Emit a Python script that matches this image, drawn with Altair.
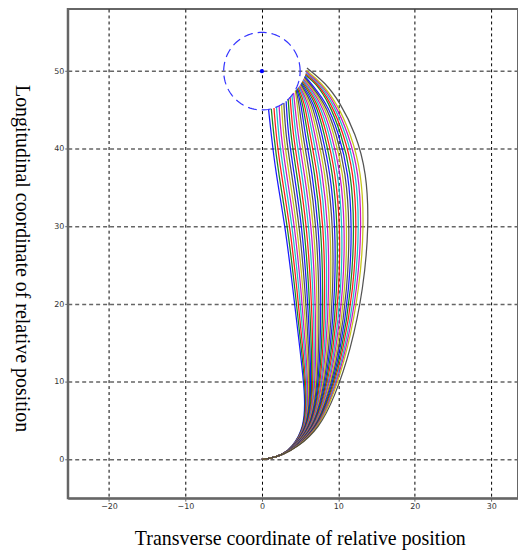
import altair as alt
import numpy as np
import pandas as pd

# ---- data ----
start_x = [0.0, 1.2, 2.7]
start_y = [0.0, 0.15, 0.6]

level_y = [1.5, 4, 8, 14, 22, 30, 37, 42, 46, 48.5]

x_y1_5 = [3.90, 3.92, 3.94, 3.96, 3.98, 4.00, 4.02, 4.04, 4.06, 4.08, 4.10, 4.12, 4.14, 4.16, 4.18, 4.20, 4.22, 4.24,
          4.26, 4.28, 4.30, 4.32, 4.34, 4.36, 4.38, 4.40, 4.42, 4.44, 4.46, 4.48, 4.50, 4.52, 4.54, 4.56, 4.60]
x_y4 = [5.50, 5.56, 5.61, 5.67, 5.73, 5.79, 5.84, 5.90, 5.96, 6.01, 6.07, 6.13, 6.19, 6.24, 6.30, 6.36, 6.41, 6.47,
        6.53, 6.59, 6.64, 6.70, 6.76, 6.81, 6.87, 6.93, 6.99, 7.04, 7.10, 7.16, 7.21, 7.27, 7.33, 7.39, 7.50]
x_y8 = [5.70, 5.81, 5.92, 6.03, 6.13, 6.24, 6.35, 6.46, 6.57, 6.68, 6.79, 6.89, 7.00, 7.11, 7.22, 7.33, 7.44, 7.55,
        7.65, 7.76, 7.87, 7.98, 8.09, 8.20, 8.31, 8.41, 8.52, 8.63, 8.74, 8.85, 8.96, 9.07, 9.17, 9.28, 9.50]
x_y14 = [5.00, 5.19, 5.38, 5.57, 5.75, 5.94, 6.13, 6.32, 6.51, 6.70, 6.89, 7.07, 7.26, 7.45, 7.64, 7.83, 8.02, 8.21,
         8.39, 8.58, 8.77, 8.96, 9.15, 9.34, 9.53, 9.71, 9.90, 10.09, 10.28, 10.47, 10.66, 10.85, 11.03, 11.22, 11.60]
x_y22 = [4.05, 4.31, 4.58, 4.84, 5.11, 5.37, 5.64, 5.90, 6.16, 6.43, 6.69, 6.96, 7.22, 7.49, 7.75, 8.01, 8.28, 8.54,
         8.81, 9.07, 9.34, 9.60, 9.86, 10.13, 10.39, 10.66, 10.92, 11.19, 11.45, 11.71, 11.98, 12.24, 12.51, 12.77, 13.30]
x_y30 = [3.05, 3.36, 3.68, 3.99, 4.30, 4.61, 4.93, 5.24, 5.55, 5.87, 6.18, 6.49, 6.80, 7.12, 7.43, 7.74, 8.06, 8.37,
         8.68, 8.99, 9.31, 9.62, 9.93, 10.25, 10.56, 10.87, 11.19, 11.50, 11.81, 12.12, 12.44, 12.75, 13.06, 13.38, 14.00]
x_y37 = [1.80, 2.14, 2.48, 2.82, 3.16, 3.50, 3.84, 4.18, 4.52, 4.86, 5.20, 5.54, 5.88, 6.22, 6.56, 6.90, 7.24, 7.58,
         7.92, 8.26, 8.60, 8.94, 9.28, 9.62, 9.96, 10.30, 10.64, 10.98, 11.32, 11.66, 12.00, 12.34, 12.68, 13.02, 13.70]
x_y42 = [1.20, 1.52, 1.83, 2.15, 2.46, 2.78, 3.09, 3.41, 3.73, 4.04, 4.36, 4.67, 4.99, 5.30, 5.62, 5.94, 6.25, 6.57,
         6.88, 7.20, 7.51, 7.83, 8.15, 8.46, 8.78, 9.09, 9.41, 9.72, 10.04, 10.35, 10.67, 10.98, 11.30, 11.61, 12.25]
x_y46 = [None] * 12 + [4.60, 4.84, 5.09, 5.33, 5.57, 5.82, 6.06, 6.30, 6.55, 6.79, 7.04, 7.28, 7.52, 7.77, 8.01, 8.25,
                      8.50, 8.74, 8.98, 9.23, 9.47, 9.72, 10.20]
x_y48_5 = [None] * 29 + [7.0, 7.2, 7.4, 7.6, 7.8, 8.3]

end_x = [0.87, 1.23, 1.58, 1.91, 2.25, 2.57, 2.87, 3.17, 3.44, 3.69, 3.93, 4.15, 4.37, 4.47, 4.56, 4.65, 4.75, 4.83,
         4.92, 5.00, 5.08, 5.15, 5.23, 5.31, 5.36, 5.43, 5.50, 5.55, 5.61, 5.66, 5.71, 5.74, 5.79, 5.83, 5.89]
end_y = [45.08, 45.15, 45.26, 45.38, 45.53, 45.71, 45.91, 46.13, 46.37, 46.63, 46.91, 47.20, 47.48, 47.57, 47.68,
         47.77, 47.88, 47.99, 48.10, 48.21, 48.33, 48.46, 48.58, 48.71, 48.83, 48.97, 49.10, 49.24, 49.37, 49.52,
         49.66, 49.81, 49.95, 50.10, 50.41]

curve_colors = ["#0000ff", "#008000", "#ff0000", "#00bfbf", "#bf00bf", "#bfbf00", "#404040"]

target_x = [0.0]
target_y = [50.0]
target_radius = 5.0

x_ticks = [-20, -10, 0, 10, 20, 30]
y_ticks = [0, 10, 20, 30, 40, 50]

# ---- build tables ----
levels = [x_y1_5, x_y4, x_y8, x_y14, x_y22, x_y30, x_y37, x_y42, x_y46, x_y48_5]
rows = []
n_curves = len(end_x)
for c in range(n_curves):
    k = 0
    for sx, sy in zip(start_x, start_y):
        rows.append({"curve": c, "k": k, "x": sx, "y": sy}); k += 1
    for ly, arr in zip(level_y, levels):
        if arr[c] is not None:
            rows.append({"curve": c, "k": k, "x": arr[c], "y": ly}); k += 1
    rows.append({"curve": c, "k": k, "x": end_x[c], "y": end_y[c]})
df = pd.DataFrame(rows)

ang = np.linspace(0, 2 * np.pi, 121)
circ = pd.DataFrame({"x": target_x[0] + target_radius * np.cos(ang),
                     "y": target_y[0] + target_radius * np.sin(ang),
                     "k": np.arange(len(ang))})
center = pd.DataFrame({"x": target_x, "y": target_y})

xs = alt.Scale(domain=[-25.4, 33.5], nice=False, zero=False)
ys = alt.Scale(domain=[-5, 58], nice=False, zero=False)

x_axis = alt.Axis(values=x_ticks, title="Transverse coordinate of relative position",
                  grid=True, gridColor="#000000", gridDash=[3, 3], gridWidth=1,
                  domainColor="#666666", domainWidth=2, tickColor="#666666", tickSize=3,
                  labelFont="DejaVu Sans", labelFontSize=8, labelColor="#333333", labelPadding=1,
                  titleFont="Liberation Serif", titleFontSize=20, titleFontWeight="normal", titleColor="#000000",
                  titleX=233, titleY=47, titleAlign="center", titleBaseline="alphabetic")
y_axis = alt.Axis(values=y_ticks, title="Longitudinal coordinate of relative position",
                  grid=True, gridColor="#666666", gridDash=[4, 3], gridWidth=1.5,
                  domainColor="#666666", domainWidth=2, tickColor="#666666", tickSize=3,
                  labelFont="DejaVu Sans", labelFontSize=8, labelColor="#333333", labelPadding=1,
                  titleFont="Liberation Serif", titleFontSize=20, titleFontWeight="normal", titleColor="#000000",
                  titleAngle=90, titleX=-46, titleY=250, titleAlign="center", titleBaseline="middle")

curves = alt.Chart(df).mark_line(interpolate="basis", strokeWidth=1.25, opacity=0.9).encode(
    x=alt.X("x:Q", scale=xs, axis=x_axis),
    y=alt.Y("y:Q", scale=ys, axis=y_axis),
    color=alt.Color("curve:N", scale=alt.Scale(domain=list(range(n_curves)), range=curve_colors), legend=None),
    order="k:Q",
)

circle = alt.Chart(circ).mark_line(color="#3333ff", strokeWidth=1.2, strokeDash=[9, 5]).encode(
    x=alt.X("x:Q", scale=xs), y=alt.Y("y:Q", scale=ys), order="k:Q")

dot = alt.Chart(center).mark_point(filled=True, color="#0000ff", size=18, opacity=1).encode(
    x=alt.X("x:Q", scale=xs), y=alt.Y("y:Q", scale=ys))

chart = alt.layer(curves, circle, dot).properties(
    width=452, height=491,
    autosize=alt.AutoSizeParams(type="none"),
    padding={"left": 68, "top": 8, "right": 0, "bottom": 54},
    background="#ffffff",
).configure_view(stroke="#666666", strokeWidth=2)

chart.save("out.html", embed_options={"renderer": "svg", "actions": False})
